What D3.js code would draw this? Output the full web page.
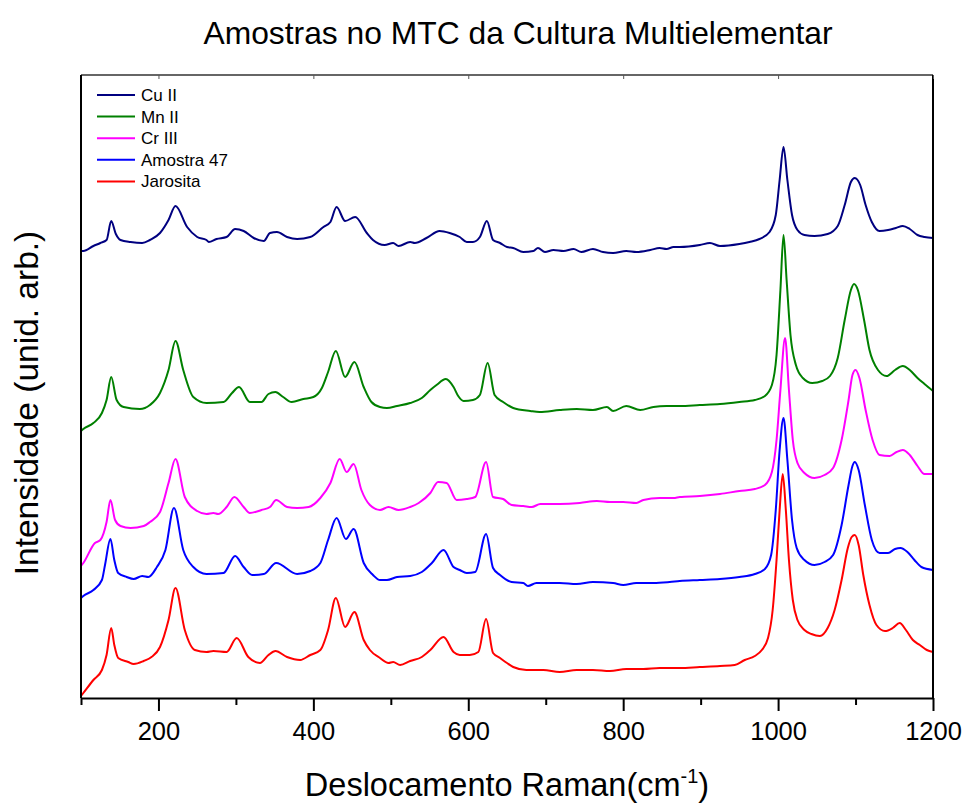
<!DOCTYPE html>
<html>
<head>
<meta charset="utf-8">
<script src="https://cdn.jsdelivr.net/npm/d3@7"></script>
<style>
  body { margin: 0; background: #fff; }
  svg { font-family: "Liberation Sans", Arial, sans-serif; }
</style>
</head>
<body>
<svg id="chart" width="964" height="803"></svg>
<script>
// Raman spectra, [wavenumber cm-1, intensity (arb., offset stacked)]
var cuII = [[100,447],[103,447],[116,452],[125,455],[133,458],[139,477],[145,464],[151,458],[164,456],[179,455],[189,458],[202,465],[213,478],[222,492],[237,471],[250,461],[262,458],[265,456],[275,459],[288,461],[299,469],[310,467],[323,460],[336,457],[344,465],[353,466],[366,461],[379,459],[396,461],[413,471],[422,476],[430,491],[441,477],[454,481],[469,465],[477,458],[492,453],[503,455],[510,452],[525,456],[531,455],[546,460],[563,467],[576,465],[589,461],[598,456],[606,456],[615,461],[624,477],[632,458],[641,455],[650,451],[658,450],[671,446],[684,447],[690,450],[699,446],[710,448],[723,447],[736,449],[746,446],[761,449],[774,446],[787,445],[804,447],[817,446],[835,448],[847,450],[856,449],[865,451],[873,451],[899,453],[912,455],[925,452],[950,454],[963,456],[976,459],[989,466],[997,483],[1002,518],[1007,551],[1012,518],[1018,483],[1025,468],[1034,463],[1047,462],[1064,464],[1077,472],[1086,493],[1094,516],[1099,520],[1106,513],[1113,493],[1121,476],[1131,467],[1142,468],[1152,470],[1161,472],[1170,469],[1180,463],[1189,461],[1200,460]];

var mnII = [[100,267],[103,269],[116,275],[127,285],[133,298],[139,321],[146,298],[155,291],[176,289],[189,293],[202,305],[213,328],[222,357],[232,328],[245,301],[262,295],[284,296],[295,305],[304,311],[318,296],[333,296],[342,304],[351,306],[361,301],[372,296],[387,299],[400,301],[411,310],[419,326],[429,347],[441,321],[453,336],[465,311],[475,296],[486,291],[495,290],[508,292],[525,295],[540,300],[551,308],[559,313],[571,319],[581,311],[587,302],[594,297],[606,298],[615,303],[625,335],[634,303],[645,296],[658,290],[680,287],[692,286],[718,288],[740,289],[761,288],[779,291],[787,287],[804,292],[822,288],[839,291],[856,292],[873,292],[899,293],[925,294],[950,296],[970,298],[983,302],[992,313],[998,343],[1003,408],[1007,463],[1011,418],[1016,363],[1023,333],[1032,320],[1044,315],[1057,317],[1067,322],[1077,340],[1086,378],[1094,408],[1098,414],[1103,408],[1111,378],[1118,348],[1129,328],[1140,322],[1151,328],[1161,332],[1170,328],[1180,320],[1189,314],[1200,307]];

var crIII = [[100,132],[103,135],[118,155],[125,158],[133,176],[138,198],[144,178],[151,172],[164,170],[181,172],[189,176],[202,186],[213,215],[222,239],[234,201],[250,187],[262,184],[271,185],[277,184],[288,191],[298,201],[310,191],[318,185],[333,188],[344,191],[352,198],[366,191],[379,190],[394,191],[409,200],[422,215],[434,239],[443,226],[452,234],[462,208],[473,193],[486,188],[497,191],[510,188],[525,191],[536,195],[551,205],[561,216],[572,215],[585,198],[598,199],[609,201],[623,236],[632,201],[645,199],[656,193],[671,192],[682,191],[693,194],[718,194],[744,195],[766,197],[783,196],[800,196],[817,195],[826,198],[847,200],[865,200],[873,201],[899,202],[925,204],[950,207],[970,209],[983,213],[992,226],[998,258],[1003,308],[1009,360],[1014,308],[1019,258],[1025,235],[1034,225],[1047,220],[1060,223],[1071,230],[1082,258],[1091,298],[1096,323],[1100,328],[1105,320],[1113,288],[1122,258],[1131,243],[1144,242],[1153,246],[1161,248],[1170,243],[1180,232],[1189,224],[1200,224]];

var amostra47 = [[100,100],[103,102],[116,108],[127,118],[131,133],[138,159],[143,138],[148,125],[159,121],[168,119],[179,122],[187,121],[198,131],[209,148],[220,190],[232,148],[245,131],[262,124],[284,125],[299,142],[310,131],[321,123],[336,124],[352,135],[379,124],[396,127],[409,135],[419,158],[430,180],[442,159],[452,169],[465,135],[477,123],[486,118],[495,118],[508,121],[525,122],[540,126],[553,135],[568,148],[581,131],[589,128],[598,125],[609,126],[623,164],[632,130],[641,123],[656,116],[671,115],[677,112],[688,115],[718,115],[740,114],[761,116],[787,115],[800,113],[817,115],[839,115],[860,116],[873,117],[899,118],[925,119],[950,121],[970,124],[983,129],[991,143],[997,188],[1002,248],[1007,280],[1012,238],[1018,178],[1024,150],[1034,138],[1047,133],[1060,136],[1071,143],[1082,173],[1091,213],[1096,232],[1099,236],[1104,228],[1112,193],[1121,158],[1131,145],[1142,145],[1151,149],[1158,150],[1167,146],[1176,138],[1185,131],[1200,128]];

var jarosita = [[100,2],[103,5],[116,18],[127,28],[133,43],[139,70],[143,53],[148,40],[161,36],[168,34],[181,37],[191,41],[202,51],[213,78],[222,110],[234,68],[247,48],[262,46],[271,47],[288,46],[301,60],[316,41],[331,35],[342,43],[351,47],[366,41],[383,38],[396,43],[409,48],[419,68],[429,100],[441,71],[453,86],[465,58],[473,48],[486,40],[497,35],[503,36],[512,33],[525,37],[540,41],[551,48],[568,61],[581,46],[589,43],[602,43],[613,46],[623,79],[632,45],[641,40],[650,35],[658,31],[675,28],[697,28],[718,26],[740,28],[761,28],[783,27],[804,29],[826,29],[847,30],[873,30],[899,31],[925,32],[944,33],[957,38],[970,42],[979,48],[987,60],[993,88],[998,138],[1002,188],[1006,224],[1010,188],[1014,138],[1019,98],[1025,78],[1034,68],[1043,64],[1054,62],[1064,70],[1073,88],[1082,118],[1090,150],[1095,161],[1099,163],[1104,153],[1110,123],[1118,93],[1127,73],[1138,67],[1148,70],[1157,75],[1165,68],[1174,58],[1183,53],[1192,48],[1200,46]];

var seriesNames = ["Cu II", "Mn II", "Cr III", "Amostra 47", "Jarosita"];
var seriesColors = ["#000080", "#008000", "#ff00ff", "#0000ff", "#ff0000"];
var seriesData = [cuII, mnII, crIII, amostra47, jarosita];
var majorTicks = [200, 400, 600, 800, 1000, 1200];
var minorTicks = [100, 300, 500, 700, 900, 1100];

var svg = d3.select("#chart");
var mLeft = 81, mRight = 933, mTop = 75, mBottom = 698;

var x = d3.scaleLinear().domain([100, 1200]).range([mLeft, mRight]);
var y = d3.scaleLinear().domain([0, 623]).range([mBottom, mTop]);

var line = d3.line()
    .x(function(d) { return x(d[0]); })
    .y(function(d) { return y(d[1]); })
    .curve(d3.curveMonotoneX);

svg.append("defs").append("clipPath").attr("id", "plot")
    .append("rect").attr("x", mLeft).attr("y", mTop)
    .attr("width", mRight - mLeft).attr("height", mBottom - mTop);

var plot = svg.append("g").attr("clip-path", "url(#plot)");
seriesData.forEach(function(s, i) {
    plot.append("path")
        .datum(s)
        .attr("d", line)
        .attr("fill", "none")
        .attr("stroke", seriesColors[i])
        .attr("stroke-width", 2)
        .attr("stroke-linejoin", "round");
});

// frame
svg.append("line").attr("x1", mLeft).attr("x2", mRight).attr("y1", mTop).attr("y2", mTop)
    .attr("stroke", "#333").attr("stroke-width", 1.5);
svg.append("line").attr("x1", mRight).attr("x2", mRight).attr("y1", mTop).attr("y2", mBottom)
    .attr("stroke", "#000").attr("stroke-width", 2);
svg.append("line").attr("x1", mLeft).attr("x2", mLeft).attr("y1", mTop).attr("y2", mBottom)
    .attr("stroke", "#000").attr("stroke-width", 2);

// top inner ticks
svg.append("g").attr("transform", "translate(0," + mTop + ")")
    .call(d3.axisTop(x).tickValues(majorTicks).tickSize(-4).tickFormat(""))
    .call(function(g) { g.select(".domain").remove(); })
    .selectAll("line").attr("stroke", "#555").attr("stroke-width", 1);

// bottom axis
svg.append("g").attr("transform", "translate(0," + mBottom + ")")
    .call(d3.axisBottom(x).tickValues(minorTicks).tickSize(7).tickFormat(""))
    .call(function(g) { g.select(".domain").remove(); })
    .selectAll("line").attr("stroke-width", 2);
var majorG = svg.append("g").attr("transform", "translate(0," + mBottom + ")")
    .call(d3.axisBottom(x).tickValues(majorTicks).tickSize(13).tickPadding(11)
        .tickSizeOuter(0).tickFormat(d3.format("d")));
majorG.select(".domain").attr("stroke-width", 2);
majorG.selectAll("line").attr("stroke-width", 2);
majorG.selectAll("text")
    .attr("font-family", "Liberation Sans, Arial, sans-serif")
    .attr("font-size", 25.5)
    .attr("fill", "#000");

// titles
svg.append("text")
    .attr("x", 518).attr("y", 44)
    .attr("text-anchor", "middle")
    .attr("font-size", 31.8)
    .text("Amostras no MTC da Cultura Multielementar");

var xl = svg.append("text")
    .attr("x", 507).attr("y", 796)
    .attr("text-anchor", "middle")
    .attr("font-size", 32.5);
xl.append("tspan").text("Deslocamento Raman(cm");
xl.append("tspan").attr("dy", -13).attr("font-size", 20).text("-1");
xl.append("tspan").attr("dy", 13).text(")");

svg.append("text")
    .attr("transform", "translate(38,403) rotate(-90)")
    .attr("text-anchor", "middle")
    .attr("font-size", 33.5)
    .text("Intensidade (unid. arb.)");

// legend
var legend = svg.append("g");
seriesNames.forEach(function(name, i) {
    var ly = 95 + i * 21.6;
    legend.append("line")
        .attr("x1", 97).attr("x2", 135).attr("y1", ly).attr("y2", ly)
        .attr("stroke", seriesColors[i]).attr("stroke-width", 2);
    legend.append("text")
        .attr("x", 141).attr("y", ly + 6)
        .attr("font-size", 17)
        .text(name);
});
</script>
</body>
</html>
